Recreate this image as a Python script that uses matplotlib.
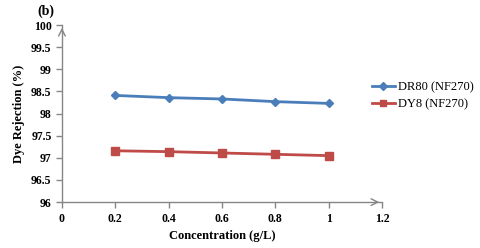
import matplotlib
matplotlib.use("Agg")
import matplotlib.pyplot as plt

conc = [0.2, 0.4, 0.6, 0.8, 1.0]
dr80 = [98.41, 98.36, 98.33, 98.27, 98.23]
dy8 = [97.16, 97.14, 97.11, 97.08, 97.05]
xticks = [0, 0.2, 0.4, 0.6, 0.8, 1, 1.2]
yticks = [96, 96.5, 97, 97.5, 98, 98.5, 99, 99.5, 100]

plt.rcParams['font.family'] = ['Liberation Serif', 'DejaVu Serif']
fig = plt.figure(figsize=(4.8, 2.48), dpi=100)
ax = fig.add_axes([0.129, 0.185, 0.667, 0.714])

ax.plot(conc, dr80, color='#4a7ebb', marker='D', markersize=4.5, linewidth=2, label='DR80 (NF270)')
ax.plot(conc, dy8, color='#be4b48', marker='s', markersize=6, linewidth=2, label='DY8 (NF270)')

ax.set_xlim(0, 1.2)
ax.set_ylim(96, 100)
ax.set_xticks(xticks)
ax.set_xticklabels([f'{t:g}' for t in xticks])
ax.set_yticks(yticks)
ax.set_yticklabels([f'{t:g}' for t in yticks])
for s in ['top', 'right']:
    ax.spines[s].set_visible(False)
for s in ['left', 'bottom']:
    ax.spines[s].set_color('#868686')
    ax.spines[s].set_linewidth(1)
ax.tick_params(axis='both', colors='#868686', labelcolor='black', length=4, width=1, labelsize=8.5)
for lab in ax.get_xticklabels() + ax.get_yticklabels():
    lab.set_fontweight('bold')

ax.annotate('', xy=(1.0, 0), xytext=(0.97, 0), xycoords='axes fraction',
            arrowprops=dict(arrowstyle='->', color='#868686', lw=1, mutation_scale=12), annotation_clip=False)
ax.annotate('', xy=(0, 1.0), xytext=(0, 0.95), xycoords='axes fraction',
            arrowprops=dict(arrowstyle='->', color='#868686', lw=1, mutation_scale=12), annotation_clip=False)

ax.set_xlabel('Concentration (g/L)', fontsize=9, fontweight='bold', labelpad=4)
ax.set_ylabel('Dye Rejection (%)', fontsize=9, fontweight='bold', labelpad=4)

fig.text(0.077, 0.955, '(b)', fontsize=10, fontweight='bold', ha='left', va='center')

leg = fig.legend(loc='center left', bbox_to_anchor=(0.774, 0.613), frameon=False, fontsize=9,
                 handlelength=1.9, handletextpad=0.2, labelspacing=0.4, borderaxespad=0, borderpad=0)
for h in leg.legend_handles:
    h.set_markersize(4)

fig.savefig('out.png', dpi=100)
